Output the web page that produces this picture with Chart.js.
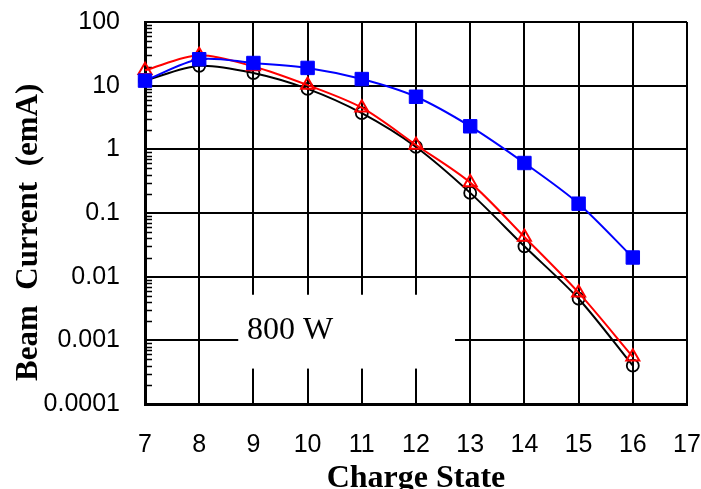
<!DOCTYPE html>
<html>
<head>
<meta charset="utf-8">
<script src="https://cdn.jsdelivr.net/npm/chart.js@4/dist/chart.umd.min.js"></script>
<style>
  body { margin: 0; background: #fff; }
  #wrap { width: 701px; height: 489px; }
</style>
</head>
<body>
<div id="wrap"><canvas id="beam" width="701" height="489"></canvas></div>
<script>
// charge state on x, beam current on a log y axis
const chargeStates = [7, 8, 9, 10, 11, 12, 13, 14, 15, 16];
const currentSquares = [12, 26, 22.7, 19, 12.7, 6.7, 2.3, 0.61, 0.14, 0.02];
const currentTriangles = [17.5, 30, 20, 10.2, 4.5, 1.17, 0.3, 0.042, 0.0056, 0.00055];
const currentCircles = [12, 20.5, 15.8, 8.9, 3.7, 1.09, 0.207, 0.03, 0.0045, 0.0004];

const xTicks = [7, 8, 9, 10, 11, 12, 13, 14, 15, 16, 17];
const yTicks = [0.0001, 0.001, 0.01, 0.1, 1, 10, 100];
const yTickLabels = ['0.0001', '0.001', '0.01', '0.1', '1', '10', '100'];

function points(values) {
  return chargeStates.map((c, i) => ({ x: c, y: values[i] }));
}

// white label box, "800 W", and the little minor ticks on the left axis
const plotExtras = {
  id: 'plotExtras',
  beforeDatasetsDraw(chart) {
    const { ctx, scales: { x, y } } = chart;
    ctx.save();
    const left = x.getPixelForValue(8.72), right = x.getPixelForValue(12.72);
    const top = y.getPixelForValue(0.0052), bottom = y.getPixelForValue(0.00036);
    ctx.fillStyle = '#fff';
    ctx.fillRect(left, top, right - left, bottom - top);
    ctx.fillStyle = '#000';
    ctx.font = '32px "Liberation Serif"';
    ctx.textBaseline = 'middle';
    ctx.textAlign = 'left';
    ctx.fillText('800 W', x.getPixelForValue(8.88), y.getPixelForValue(0.00141));

    ctx.strokeStyle = '#000';
    ctx.lineWidth = 1.5;
    ctx.beginPath();
    for (let d = 0; d < yTicks.length - 1; d++) {
      for (let k = 2; k <= 9; k++) {
        const py = Math.round(y.getPixelForValue(yTicks[d] * k)) + 0.5;
        ctx.moveTo(x.left, py);
        ctx.lineTo(x.left + 7, py);
      }
    }
    ctx.stroke();
    ctx.restore();
  }
};

new Chart(document.getElementById('beam'), {
  type: 'line',
  data: {
    datasets: [
      {
        data: points(currentSquares),
        borderColor: '#0000ff',
        backgroundColor: '#0000ff',
        borderWidth: 2,
        pointStyle: 'rect',
        pointRadius: 9.5,
        pointBorderWidth: 1,
        tension: 0.3,
        clip: false
      },
      {
        data: points(currentTriangles),
        borderColor: '#ff0000',
        backgroundColor: 'rgba(255,255,255,0)',
        borderWidth: 2,
        pointStyle: 'triangle',
        pointRadius: 7.5,
        pointBorderWidth: 2,
        tension: 0.3,
        clip: false
      },
      {
        data: points(currentCircles),
        borderColor: '#000000',
        backgroundColor: 'rgba(255,255,255,0)',
        borderWidth: 2,
        pointStyle: 'circle',
        pointRadius: 6,
        pointBorderWidth: 1.8,
        tension: 0.3,
        clip: false
      }
    ]
  },
  options: {
    responsive: false,
    animation: false,
    layout: { padding: { left: 0, right: 14, top: 22, bottom: 0 } },
    plugins: { legend: { display: false }, tooltip: { enabled: false } },
    scales: {
      x: {
        type: 'linear',
        min: 7,
        max: 17,
        afterBuildTicks: (scale) => { scale.ticks = xTicks.map(v => ({ value: v })); },
        afterFit: (scale) => { scale.height = 85; },
        grid: { color: '#000', lineWidth: 2, drawTicks: true, tickLength: 26, tickColor: 'rgba(0,0,0,0)' },
        border: { color: '#000', width: 3 },
        ticks: { color: '#000', padding: 0, font: { family: '"Liberation Sans"', size: 25 } },
        title: {
          display: true,
          text: 'Charge State',
          color: '#000',
          padding: 0,
          font: { family: '"Liberation Serif"', size: 32, weight: 'bold', lineHeight: 0.625 }
        }
      },
      y: {
        type: 'logarithmic',
        min: 0.0001,
        max: 100,
        afterBuildTicks: (scale) => { scale.ticks = yTicks.map(v => ({ value: v })); },
        afterFit: (scale) => { scale.width = 145; },
        grid: { color: '#000', lineWidth: 2, drawTicks: true, tickLength: 25, tickColor: 'rgba(0,0,0,0)' },
        border: { color: '#000', width: 3 },
        ticks: {
          color: '#000',
          padding: 0,
          font: { family: '"Liberation Sans"', size: 25 },
          callback: (v) => {
            const i = yTicks.indexOf(v);
            return i >= 0 ? yTickLabels[i] : '';
          }
        },
        title: {
          display: true,
          text: 'Beam  Current  (emA)     ',
          color: '#000',
          padding: { top: 10, bottom: 0 },
          font: { family: '"Liberation Serif"', size: 31, weight: 'bold' }
        }
      }
    }
  },
  plugins: [plotExtras]
});
</script>
</body>
</html>
